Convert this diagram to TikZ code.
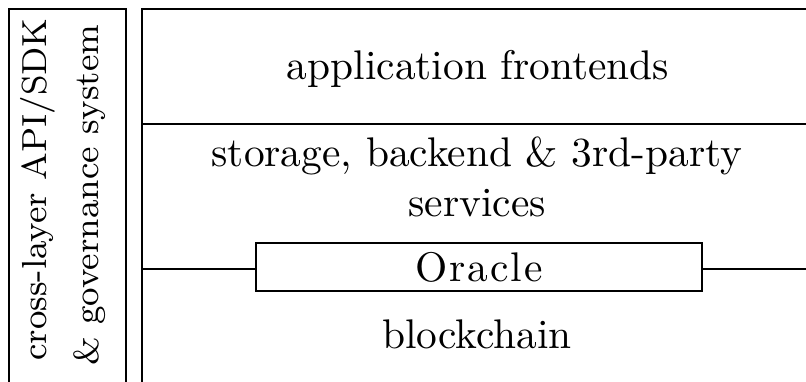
\documentclass[tikz,border=0pt]{standalone}
\begin{document}
% one unit = one pixel of the 806 x 381 canvas, y grows downward
\begin{tikzpicture}[x=0.2415pt,y=-0.2415pt,
  frame/.style={line width=0.45pt},
  layertext/.style={font=\fontsize{10}{12}\selectfont, inner sep=0pt},
  sidetext/.style={font=\fontsize{8.4}{12.46}\selectfont, inner sep=0pt, rotate=90, anchor=base},
  oraclebox/.style={draw, line width=0.45pt, minimum width=107.7pt, minimum height=11.6pt, inner sep=0pt, font=\fontsize{10}{12}\selectfont}]
  \clip (0,0) rectangle (806,381);

  % side column and main layer stack (both run past the lower/right edge)
  \draw[frame] (9.3,9.3) rectangle (126,460);
  \draw[frame] (141.7,9.3) rectangle (900,460);
  \coordinate (sepL) at (141.7,124);
  \coordinate (sepR) at (900,124);
  \draw[frame] (sepL) -- (sepR);

  % side label, two rotated lines
  \node[sidetext] (sideA) at (46.7,189.5) {cross-layer API/SDK};
  \node[sidetext] (sideB) at (98.3,195) {\& governance system};

  % layer labels
  \node[layertext, anchor=base] (app) at (478,79) {application frontends};
  \node[layertext, align=center] (store) at (477,177) {storage, backend \& 3rd-party\\services};
  \node[layertext, anchor=base] (chain) at (477,348) {blockchain};

  % oracle bridging the services and blockchain layers
  \node[oraclebox] (oracle) at (479,267) {O\kern0.5pt r\kern0.5pt a\kern0.5pt c\kern0.5pt l\kern0.5pt e};
  \coordinate (bandL) at (141.7,269);
  \coordinate (bandR) at (900,269);
  \draw[frame] (bandL) -- (bandL -| oracle.west);
  \draw[frame] (oracle.east |- bandR) -- (bandR);
\end{tikzpicture}
\end{document}
